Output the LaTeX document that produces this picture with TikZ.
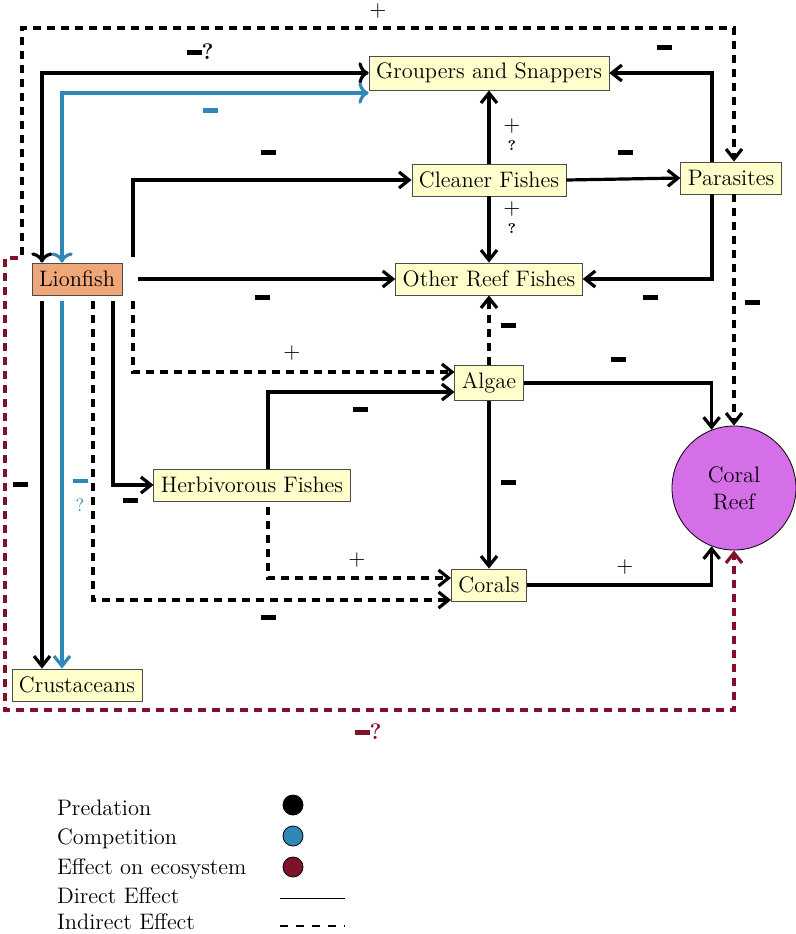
\documentclass[tikz,border=0pt]{standalone}
\usetikzlibrary{arrows.meta, positioning}
\definecolor{lionorange}{HTML}{EFA77A}
\definecolor{boxyellow}{HTML}{FFFFCC}
\definecolor{compblue}{HTML}{2F88B5}
\definecolor{ecored}{HTML}{80112B}
\definecolor{reefviolet}{HTML}{D46FE8}
\newcommand{\mbar}{\rule[0.5ex]{7.5pt}{2.4pt}}
\tikzset{
    species/.style={rectangle, draw=black!70, fill=boxyellow, inner sep=3.5pt, minimum height=16pt},
    pred/.style={line width=1.6pt, -{Straight Barb[length=5pt,width=8pt]}},
    comp/.style={pred, compblue},
    ind/.style={pred, dash pattern=on 4pt off 3pt},
    eco/.style={ind, ecored},
    sign/.style={inner sep=0pt}
}
\begin{document}
\begin{tikzpicture}[x=0.5pt, y=-0.5pt, every node/.style={font=\fontsize{11.2}{13.5}\selectfont}]
    \useasboundingbox (0,0) rectangle (796,934);

    % species
    \node[species, fill=lionorange] (Lionfish) at (77,279) {Lionfish};
    \node[species] (Groupers) at (489,73) {Groupers and Snappers};
    \node[species] (Cleaner) at (489,180) {Cleaner Fishes};
    \node[species] (Parasites) at (731,178) {Parasites};
    \node[species] (OtherReef) at (489,279) {Other Reef Fishes};
    \node[species] (Algae) at (489,383) {Algae};
    \node[species] (Herb) at (252,485) {Herbivorous Fishes};
    \node[species] (Corals) at (489,585) {Corals};
    \node[species] (Crust) at (77,685) {Crustaceans};
    \node[circle, draw, fill=reefviolet, minimum size=62pt, align=center] (Reef) at (734,488) {Coral\\Reef};

    \coordinate (topL) at (22,28);
    \coordinate (topR) at (734,28);
    \coordinate (redL) at (5,710);

    % lionfish links
    \draw[pred, <->] ([xshift=-17.5pt]Lionfish.north) |- (Groupers.west);
    \draw[comp, <->] ([xshift=-7.5pt]Lionfish.north) |- ([yshift=-10pt]Groupers.west);
    \draw[ind] ([xshift=-27.5pt,yshift=4pt]Lionfish.north) |- (topL) -- (topR) -- (Parasites.north -| topR);
    \draw[pred] ([xshift=28pt,yshift=3pt]Lionfish.north) |- (Cleaner.west);
    \draw[pred] ([xshift=8pt]Lionfish.east) -- (OtherReef.west);
    \draw[ind] ([xshift=28pt,yshift=-3pt]Lionfish.south) |- ([yshift=5.5pt]Algae.west);
    \draw[pred] ([xshift=18pt,yshift=-3pt]Lionfish.south) |- (Herb.west);
    \draw[ind] ([xshift=8pt,yshift=-3pt]Lionfish.south) |- ([yshift=-7.5pt]Corals.west);
    \draw[pred] ([xshift=-17.5pt,yshift=-3pt]Lionfish.south) -- ([xshift=-17.5pt]Crust.north);
    \draw[comp] ([xshift=-7.5pt,yshift=-3pt]Lionfish.south) -- ([xshift=-7.5pt]Crust.north);
    \draw[eco] ([xshift=-7pt,yshift=10.5pt]Lionfish.west) -| (redL) -| (Reef.south);

    % other links
    \draw[pred] (Cleaner.north) -- (Groupers.south);
    \draw[pred] (Cleaner.south) -- (OtherReef.north);
    \draw[pred] (Cleaner.east) -- (Parasites.west);
    \draw[pred] ([xshift=-9.5pt]Parasites.north) |- (Groupers.east);
    \draw[pred] ([xshift=-9.5pt]Parasites.south) |- (OtherReef.east);
    \draw[ind] (Parasites.south -| Reef.north) -- (Reef.north);
    \draw[ind] (Algae.north) -- (OtherReef.south);
    \draw[pred] ([xshift=8pt]Herb.north) |- ([yshift=-4.5pt]Algae.west);
    \draw[pred] (Algae.east) -| (Reef.111);
    \draw[pred] (Algae.south) -- (Corals.north);
    \draw[ind] ([xshift=8pt,yshift=-3pt]Herb.south) |- ([yshift=3.5pt]Corals.west);
    \draw[pred] (Corals.east) -| (Reef.249);

    % signs
    \node[sign] (s1) at (200,52) {\mbar\textbf{?}};
    \node[sign] (s2) at (210,113) {\color{compblue}\mbar};
    \node[sign] (s3) at (378,11) {$+$};
    \node[sign] (s4) at (268,155) {\mbar};
    \node[sign] (s5) at (262,300) {\mbar};
    \node[sign, align=center] (s6) at (512,135) {$+$\\[-4pt]\scriptsize\bfseries ?};
    \node[sign, align=center] (s7) at (512,218) {$+$\\[-4pt]\scriptsize\bfseries ?};
    \node[sign] (s8) at (625,155) {\mbar};
    \node[sign] (s9) at (664,50) {\mbar};
    \node[sign] (s10) at (650,300) {\mbar};
    \node[sign] (s11) at (752,305) {\mbar};
    \node[sign] (s12) at (508,328) {\mbar};
    \node[sign] (s13) at (292,353) {$+$};
    \node[sign] (s14) at (360,412) {\mbar};
    \node[sign] (s15) at (618,362) {\mbar};
    \node[sign] (s16) at (508,485) {\mbar};
    \node[sign] (s17) at (130,503) {\mbar};
    \node[sign] (s18) at (357,560) {$+$};
    \node[sign] (s19) at (268,620) {\mbar};
    \node[sign] (s20) at (625,567) {$+$};
    \node[sign] (s21) at (20,487) {\mbar};
    \node[sign, align=center, text=compblue] (s22) at (80,495) {\color{compblue}\mbar\\[-2pt]\small ?};
    \node[sign, text=ecored] (s23) at (368,732) {\color{ecored}\mbar\textbf{?}};

    % legend
    \node[anchor=west] (leg1) at (50,808) {Predation};
    \node[anchor=west] (leg2) at (50,839) {Competition};
    \node[anchor=west] (leg3) at (50,869) {Effect on ecosystem};
    \node[anchor=west] (leg4) at (50,896) {Direct Effect};
    \node[anchor=west] (leg5) at (50,922) {Indirect Effect};
    \node[circle, draw, fill=black, minimum size=10pt] (dot1) at (293,805) {};
    \node[circle, draw, fill=compblue, minimum size=10pt] (dot2) at (293,836) {};
    \node[circle, draw, fill=ecored, minimum size=10pt] (dot3) at (293,867) {};
    \coordinate (ln1) at (280,898);
    \coordinate (ln2) at (345,898);
    \coordinate (ln3) at (280,926);
    \coordinate (ln4) at (345,926);
    \draw (ln1) -- (ln2);
    \draw[line width=1pt, dash pattern=on 4pt off 4pt] (ln3) -- (ln4);
\end{tikzpicture}
\end{document}
